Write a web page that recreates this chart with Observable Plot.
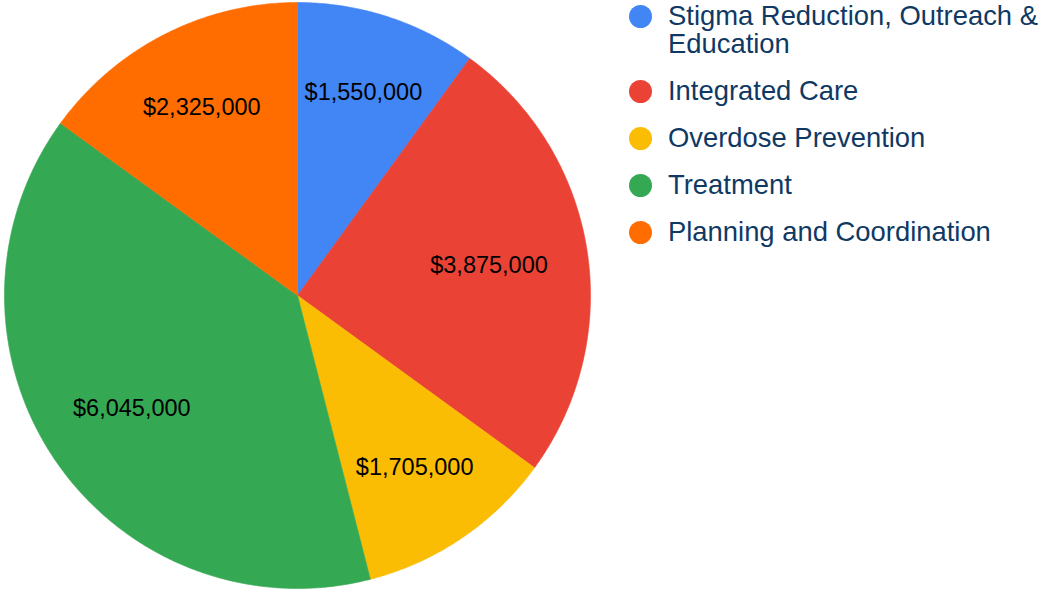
<!DOCTYPE html>
<html>
<head>
<meta charset="utf-8">
<script src="https://cdn.jsdelivr.net/npm/d3@7"></script>
<script src="https://cdn.jsdelivr.net/npm/@observablehq/plot@0.6"></script>
<style>
  html, body { margin: 0; padding: 0; background: #fff; }
  #wrap { position: relative; width: 1043px; height: 592px; font-family: "Liberation Sans", Arial, sans-serif; }
  #legend { position: absolute; left: 629px; top: 2px; width: 414px; }
  .row { display: flex; align-items: flex-start; margin-bottom: 19px; }
  .dot { width: 23px; height: 23px; border-radius: 50%; margin-top: 2.5px; flex: none; }
  .lab { margin-left: 16px; font-size: 27.4px; line-height: 28px; color: #0f3963; width: 374px; }
</style>
</head>
<body>
<div id="wrap"><div id="chart"></div><div id="legend"></div></div>
<script>
const categories = ["Stigma Reduction, Outreach & Education", "Integrated Care", "Overdose Prevention", "Treatment", "Planning and Coordination"];
const amounts = [1550000, 3875000, 1705000, 6045000, 2325000];
const colors = ["#4285f4", "#ea4335", "#fbbc04", "#34a853", "#ff6d01"];

const total = d3.sum(amounts);
const fmt = v => "$" + d3.format(",")(v);

// Build slice polygons (clockwise from 12 o'clock) in unit coordinates
const pts = [];
const labelData = [];
let acc = 0;
amounts.forEach((v, i) => {
  const a0 = acc / total * 2 * Math.PI;
  acc += v;
  const a1 = acc / total * 2 * Math.PI;
  pts.push({cat: categories[i], x: 0, y: 0});
  const n = Math.max(2, Math.ceil((a1 - a0) / (Math.PI / 360)));
  for (let k = 0; k <= n; k++) {
    const a = a0 + (a1 - a0) * k / n;
    pts.push({cat: categories[i], x: Math.sin(a), y: Math.cos(a)});
  }
  pts.push({cat: categories[i], x: 0, y: 0});
  const am = (a0 + a1) / 2;
  const r = 0.66 + 0.075 * Math.cos(am) ** 2;
  labelData.push({x: r * Math.sin(am), y: r * Math.cos(am), text: fmt(v)});
});

const chart = Plot.plot({
  width: 1043,
  height: 592,
  marginLeft: 4,
  marginRight: 453,
  marginTop: 2,
  marginBottom: 4,
  x: {domain: [-1, 1], axis: null},
  y: {domain: [-1, 1], axis: null},
  color: {domain: categories, range: colors},
  style: {fontFamily: "'Liberation Sans', Arial, sans-serif", background: "transparent"},
  marks: [
    Plot.line(pts, {x: "x", y: "y", z: "cat", fill: "cat", stroke: "cat", strokeWidth: 0.6}),
    Plot.text(labelData, {x: "x", y: "y", text: "text", fontSize: 23.5, fill: "#000"})
  ]
});
document.getElementById("chart").appendChild(chart);

const legend = document.getElementById("legend");
categories.forEach((c, i) => {
  const row = document.createElement("div");
  row.className = "row";
  const dot = document.createElement("div");
  dot.className = "dot";
  dot.style.background = colors[i];
  const lab = document.createElement("div");
  lab.className = "lab";
  lab.textContent = c;
  row.appendChild(dot);
  row.appendChild(lab);
  legend.appendChild(row);
});
</script>
</body>
</html>
